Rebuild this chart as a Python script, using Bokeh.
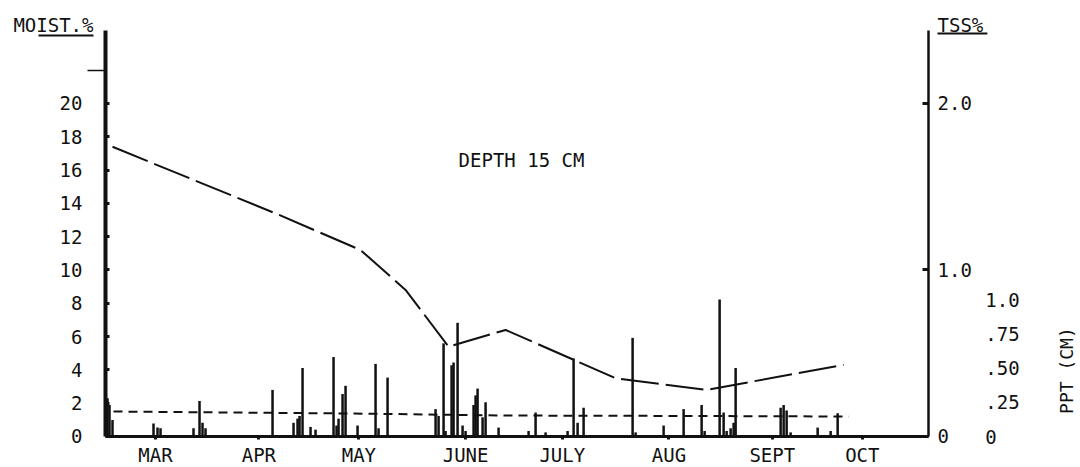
from math import pi
from bokeh.plotting import figure
from bokeh.models import Range1d, LinearAxis, FixedTicker
from bokeh.core.properties import value
from bokeh.embed import file_html
from bokeh.resources import INLINE

# ---------------- data (x = day of year) ----------------
month_days = [60, 91, 121, 153, 182, 214, 245, 272]
month_labels = ["MAR", "APR", "MAY", "JUNE", "JULY", "AUG", "SEPT", "OCT"]

moist_ticks = [0, 2, 4, 6, 8, 10, 12, 14, 16, 18, 20]
moist_extra_tick = [22]
tss_ticks = [0, 1, 2]
tss_tick_labels = ["0", "1.0", "2.0"]
ppt_ticks = [0, 0.25, 0.5, 0.75, 1.0]
ppt_tick_labels = ["0", ".25", ".50", ".75", "1.0"]

# soil moisture (%) at 15 cm
moist_days = [47.1, 96.0, 121.5, 135.0, 147.9, 165.0, 198.0, 225.3, 266.4]
moist_vals = [17.4, 13.4, 11.2, 8.8, 5.4, 6.4, 3.5, 2.8, 4.3]

# total soluble salts (%)
tss_days = [47.4, 119.7, 164.7, 225.3, 267.9]
tss_vals = [0.150, 0.138, 0.126, 0.123, 0.120]

# daily precipitation (cm)
ppt_days = [45.6, 46.2, 47.1, 59.4, 60.6, 61.5, 71.4, 73.2, 74.1, 75.0, 95.1,
            101.4, 102.6, 103.2, 104.1, 106.5, 108.0, 113.4, 114.3, 114.9, 116.1,
            117.0, 120.6, 126.0, 126.9, 129.6, 144.0, 144.9, 146.4, 147.0, 148.8,
            149.4, 150.6, 152.1, 153.0, 155.4, 156.0, 156.6, 158.1, 159.0, 162.9,
            171.9, 174.0, 177.0, 183.6, 185.4, 186.6, 188.4, 203.1, 204.0, 212.4,
            218.4, 223.8, 224.7, 229.2, 230.4, 231.3, 232.5, 233.4, 234.0, 247.5,
            248.4, 249.3, 250.5, 258.6, 262.5, 264.6]
ppt_vals = [0.28, 0.23, 0.12, 0.095, 0.065, 0.06, 0.06, 0.26, 0.10, 0.06, 0.34,
            0.10, 0.13, 0.15, 0.50, 0.07, 0.05, 0.58, 0.08, 0.13, 0.31,
            0.37, 0.08, 0.53, 0.06, 0.43, 0.20, 0.15, 0.68, 0.04, 0.52,
            0.54, 0.83, 0.08, 0.04, 0.23, 0.30, 0.35, 0.14, 0.25, 0.065,
            0.04, 0.175, 0.03, 0.04, 0.57, 0.10, 0.21, 0.72, 0.03, 0.08,
            0.20, 0.23, 0.04, 1.00, 0.175, 0.04, 0.06, 0.10, 0.50, 0.21,
            0.23, 0.19, 0.03, 0.065, 0.04, 0.17]

# axis extents (data units)
X0, X1 = 45.0, 291.85          # season shown on the time axis
MOIST_TOP = 24.38               # top of moisture / TSS axes
PPT_AXIS_X = 304.4              # where the PPT scale is written

FONT = "DejaVu Sans Mono"
INK = "#111111"
W, H = 1080, 467

# frame covers the whole canvas; axes are pinned inside it
p = figure(width=W, height=H,
           x_range=Range1d(13.506, 337.44), y_range=Range1d(-1.862, 26.186),
           output_backend="svg", toolbar_location=None,
           x_axis_location=None, y_axis_location=None,
           min_border=0, min_border_left=0, min_border_right=0,
           min_border_top=0, min_border_bottom=0)
p.grid.visible = False
p.outline_line_color = None
p.background_fill_color = "white"
p.border_fill_color = "white"
p.extra_y_ranges = {"tss": Range1d(-0.1862, 2.6186),
                    "ppt": Range1d(-31 / 137, 436 / 137)}


def style(ax, size="19px"):
    ax.major_label_text_font = FONT
    ax.major_label_text_font_size = size
    ax.major_label_text_color = INK
    ax.axis_line_color = INK
    ax.major_tick_line_color = INK
    ax.minor_tick_line_color = None


xa = LinearAxis(ticker=FixedTicker(ticks=month_days), fixed_location=0,
                bounds=(X0, X1),
                major_label_overrides=dict(zip(month_days, month_labels)))
style(xa)
xa.axis_line_width = 3
xa.major_tick_in = 0
xa.major_tick_out = 3
xa.major_tick_line_width = 3
xa.major_label_standoff = 5
p.add_layout(xa, "below")

ya = LinearAxis(ticker=FixedTicker(ticks=moist_ticks), fixed_location=X0,
                bounds=(0, MOIST_TOP))
style(ya)
ya.axis_line_width = 4
ya.major_tick_in = 4
ya.major_tick_out = 0
ya.major_tick_line_width = 3
ya.major_label_standoff = 23
p.add_layout(ya, "left")

# unlabelled outward tick near the top of the moisture axis
ya2 = LinearAxis(ticker=FixedTicker(ticks=moist_extra_tick), fixed_location=X0,
                 bounds=(0, MOIST_TOP),
                 major_label_overrides={22: ""})
style(ya2)
ya2.axis_line_color = None
ya2.major_tick_in = 0
ya2.major_tick_out = 18
ya2.major_tick_line_width = 1.5
p.add_layout(ya2, "left")

ta = LinearAxis(y_range_name="tss", ticker=FixedTicker(ticks=tss_ticks),
                fixed_location=X1, bounds=(0, MOIST_TOP / 10),
                major_label_overrides=dict(zip(tss_ticks, tss_tick_labels)))
style(ta)
ta.axis_line_width = 2.5
ta.major_tick_in = 6
ta.major_tick_out = 0
ta.major_tick_line_width = 3
ta.major_label_standoff = 9
p.add_layout(ta, "right")

pa = LinearAxis(y_range_name="ppt", ticker=FixedTicker(ticks=ppt_ticks),
                fixed_location=PPT_AXIS_X, bounds=(0, 1),
                major_label_overrides=dict(zip(ppt_ticks, ppt_tick_labels)))
style(pa)
pa.axis_line_color = None
pa.major_tick_line_color = None
pa.major_tick_in = 0
pa.major_tick_out = 0
pa.major_label_standoff = 15
p.add_layout(pa, "right")

# precipitation bars
p.vbar(x=ppt_days, top=ppt_vals, width=0.75, bottom=0, y_range_name="ppt",
       fill_color=INK, line_color=None)

# TSS short-dashed line
p.line(tss_days, tss_vals, y_range_name="tss", line_color=INK, line_width=2,
       line_dash="9 6")

# moisture long-dashed line
p.line(moist_days, moist_vals, line_color=INK, line_width=2, line_dash="38 7")

# texts
p.text(x=[150.9], y=[16.58], text=["DEPTH 15 CM"], text_font=value(FONT),
       text_font_size="19px", text_baseline="middle", text_align="left",
       text_color=INK)
p.text(x=[41.4], y=[24.74], text=["MOIST.%"], text_font=value(FONT),
       text_font_size="19px", text_baseline="middle", text_align="right",
       text_color=INK)
p.segment(x0=[24.9], y0=[24.08], x1=[41.4], y1=[24.08], line_color=INK,
          line_width=2)
p.text(x=[294.55], y=[24.74], text=["TSS%"], text_font=value(FONT),
       text_font_size="19px", text_baseline="middle", text_align="left",
       text_color=INK)
p.segment(x0=[294.55], y0=[24.2], x1=[309.5], y1=[24.2], line_color=INK,
          line_width=2)
p.text(x=[333.2], y=[3.96], text=["PPT (CM)"], angle=pi / 2,
       text_font=value(FONT), text_font_size="18px", text_baseline="middle",
       text_align="center", text_color=INK)

open("out.html", "w").write(file_html(p, INLINE))
